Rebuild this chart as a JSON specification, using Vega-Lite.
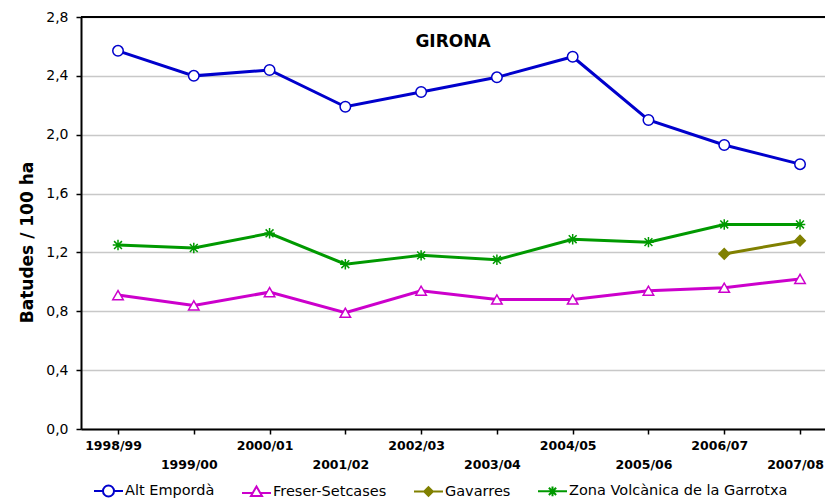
{
  "$schema": "https://vega.github.io/schema/vega-lite/v6.json",
  "width": 744,
  "height": 412,
  "autosize": {"type": "none"},
  "padding": {"left": 81, "top": 17, "right": 0, "bottom": 73},
  "background": "white",
  "config": {
    "view": {"stroke": null},
    "font": "DejaVu Sans",
    "legend": {
      "orient": "none",
      "legendX": 12,
      "legendY": 458,
      "direction": "horizontal",
      "symbolSize": 841,
      "symbolStrokeWidth": 2,
      "symbolOpacity": 1,
      "labelFont": "DejaVu Sans",
      "labelFontSize": 14.5,
      "labelColor": "black",
      "labelLimit": 400,
      "columnPadding": 23,
      "labelOffset": 1
    }
  },
  "title": {
    "text": "GIRONA",
    "fontSize": 17,
    "fontWeight": "bold",
    "font": "DejaVu Sans",
    "color": "black",
    "anchor": "middle",
    "frame": "group",
    "offset": -41,
    "dx": 0
  },
  "data": {
    "values": [
      {"season": "1998/99", "series": "Alt Empordà", "value": 2.57},
      {"season": "1999/00", "series": "Alt Empordà", "value": 2.40},
      {"season": "2000/01", "series": "Alt Empordà", "value": 2.44},
      {"season": "2001/02", "series": "Alt Empordà", "value": 2.19},
      {"season": "2002/03", "series": "Alt Empordà", "value": 2.29},
      {"season": "2003/04", "series": "Alt Empordà", "value": 2.39},
      {"season": "2004/05", "series": "Alt Empordà", "value": 2.53},
      {"season": "2005/06", "series": "Alt Empordà", "value": 2.10},
      {"season": "2006/07", "series": "Alt Empordà", "value": 1.93},
      {"season": "2007/08", "series": "Alt Empordà", "value": 1.80},
      {"season": "1998/99", "series": "Freser-Setcases", "value": 0.91},
      {"season": "1999/00", "series": "Freser-Setcases", "value": 0.84},
      {"season": "2000/01", "series": "Freser-Setcases", "value": 0.93},
      {"season": "2001/02", "series": "Freser-Setcases", "value": 0.79},
      {"season": "2002/03", "series": "Freser-Setcases", "value": 0.94},
      {"season": "2003/04", "series": "Freser-Setcases", "value": 0.88},
      {"season": "2004/05", "series": "Freser-Setcases", "value": 0.88},
      {"season": "2005/06", "series": "Freser-Setcases", "value": 0.94},
      {"season": "2006/07", "series": "Freser-Setcases", "value": 0.96},
      {"season": "2007/08", "series": "Freser-Setcases", "value": 1.02},
      {"season": "2006/07", "series": "Gavarres", "value": 1.19},
      {"season": "2007/08", "series": "Gavarres", "value": 1.28},
      {"season": "1998/99", "series": "Zona Volcànica de la Garrotxa", "value": 1.25},
      {"season": "1999/00", "series": "Zona Volcànica de la Garrotxa", "value": 1.23},
      {"season": "2000/01", "series": "Zona Volcànica de la Garrotxa", "value": 1.33},
      {"season": "2001/02", "series": "Zona Volcànica de la Garrotxa", "value": 1.12},
      {"season": "2002/03", "series": "Zona Volcànica de la Garrotxa", "value": 1.18},
      {"season": "2003/04", "series": "Zona Volcànica de la Garrotxa", "value": 1.15},
      {"season": "2004/05", "series": "Zona Volcànica de la Garrotxa", "value": 1.29},
      {"season": "2005/06", "series": "Zona Volcànica de la Garrotxa", "value": 1.27},
      {"season": "2006/07", "series": "Zona Volcànica de la Garrotxa", "value": 1.39},
      {"season": "2007/08", "series": "Zona Volcànica de la Garrotxa", "value": 1.39}
    ]
  },
  "resolve": {"scale": {"color": "independent", "shape": "independent", "fill": "independent"}},
  "layer": [
    {
      "mark": {"type": "line", "strokeWidth": 3},
      "encoding": {
        "x": {
          "field": "season", "type": "ordinal", "sort": null,
          "scale": {"type": "point", "padding": 0.409, "align": 0.597},
          "axis": {
            "title": null,
            "grid": false,
            "domainColor": "black",
            "domainWidth": 2,
            "tickColor": "black",
            "tickWidth": 1.5,
            "tickSize": 5,
            "labelAngle": 0,
            "labelFont": "DejaVu Sans",
            "labelFontSize": 12.5,
            "labelFontWeight": "bold",
            "labelColor": "black",
            "labelPadding": 5,
            "labelOffset": -5,
            "labelLineHeight": 19,
            "labelBaseline": "top",
            "labelExpr": "toNumber(substring(datum.value, 3, 4)) % 2 == 1 ? ['', datum.label] : datum.label"
          }
        },
        "y": {
          "field": "value", "type": "quantitative",
          "scale": {"domain": [0, 2.8], "nice": false},
          "axis": {
            "title": "Batudes / 100 ha",
            "titleFont": "DejaVu Sans",
            "titleFontSize": 17,
            "titleFontWeight": "bold",
            "titleColor": "black",
            "titlePadding": 9,
            "titleY": 225,
            "values": [0, 0.4, 0.8, 1.2, 1.6, 2.0, 2.4, 2.8],
            "labelExpr": "replace(format(datum.value, '.1f'), '.', ',')",
            "labelFont": "DejaVu Sans",
            "labelFontSize": 14,
            "labelColor": "black",
            "labelPadding": 8,
            "grid": true,
            "gridColor": "#c8c8c8",
            "gridWidth": 1.5,
            "domainColor": "black",
            "domainWidth": 2,
            "tickColor": "black",
            "tickWidth": 1.5,
            "tickSize": 5
          }
        },
        "color": {
          "field": "series", "type": "nominal",
          "scale": {"domain": ["Alt Empordà", "Freser-Setcases", "Gavarres", "Zona Volcànica de la Garrotxa"], "range": ["#0000cc", "#cc00cc", "#808000", "#009900"]},
          "legend": null
        }
      }
    },
    {
      "data": {"values": [{}]},
      "mark": {"type": "rule", "color": "black", "strokeWidth": 2},
      "encoding": {"y": {"datum": 2.8}}
    },
    {
      "mark": {"type": "point", "opacity": 1, "strokeWidth": 1.5, "size": 110},
      "encoding": {
        "x": {"field": "season", "type": "ordinal", "sort": null},
        "y": {"field": "value", "type": "quantitative"},
        "color": {
          "field": "series", "type": "nominal",
          "scale": {"domain": ["Alt Empordà", "Freser-Setcases", "Gavarres", "Zona Volcànica de la Garrotxa"], "range": ["#0000cc", "#cc00cc", "#808000", "#009900"]},
          "legend": null
        },
        "fill": {
          "field": "series", "type": "nominal",
          "scale": {"domain": ["Alt Empordà", "Freser-Setcases", "Gavarres", "Zona Volcànica de la Garrotxa"], "range": ["white", "white", "#808000", "transparent"]},
          "legend": null
        },
        "shape": {
          "field": "series", "type": "nominal",
          "scale": {"domain": ["Alt Empordà", "Freser-Setcases", "Gavarres", "Zona Volcànica de la Garrotxa"], "range": ["circle", "triangle-up", "diamond", "M-1,0L1,0M0,-1L0,1M-0.75,-0.75L0.75,0.75M-0.75,0.75L0.75,-0.75"]},
          "legend": null
        }
      }
    },
    {
      "mark": {"type": "point", "opacity": 0},
      "encoding": {
        "x": {"field": "season", "type": "ordinal", "sort": null},
        "y": {"field": "value", "type": "quantitative"},
        "color": {
          "field": "series", "type": "nominal",
          "scale": {"domain": ["Alt Empordà", "Freser-Setcases", "Gavarres", "Zona Volcànica de la Garrotxa"], "range": ["#0000cc", "#cc00cc", "#808000", "#009900"]},
          "legend": {"title": null}
        },
        "fill": {
          "field": "series", "type": "nominal",
          "scale": {"domain": ["Alt Empordà", "Freser-Setcases", "Gavarres", "Zona Volcànica de la Garrotxa"], "range": ["white", "white", "#808000", "transparent"]},
          "legend": {"title": null}
        },
        "shape": {
          "field": "series", "type": "nominal",
          "scale": {"domain": ["Alt Empordà", "Freser-Setcases", "Gavarres", "Zona Volcànica de la Garrotxa"], "range": [
            "M-1,0L-0.38,0M0.38,0L1,0M-0.38,0A0.38,0.38 0 1,1 0.38,0A0.38,0.38 0 1,1 -0.38,0Z",
            "M-1,0.1L-0.26,0.1M0.26,0.1L1,0.1M0,-0.35L0.38,0.3L-0.38,0.3Z",
            "M-1,0L1,0M0,-0.3L0.3,0L0,0.3L-0.3,0Z",
            "M-1,0L1,0M0,-0.33L0,0.33M-0.25,-0.25L0.25,0.25M-0.25,0.25L0.25,-0.25"
          ]},
          "legend": {"title": null}
        }
      }
    }
  ]
}
